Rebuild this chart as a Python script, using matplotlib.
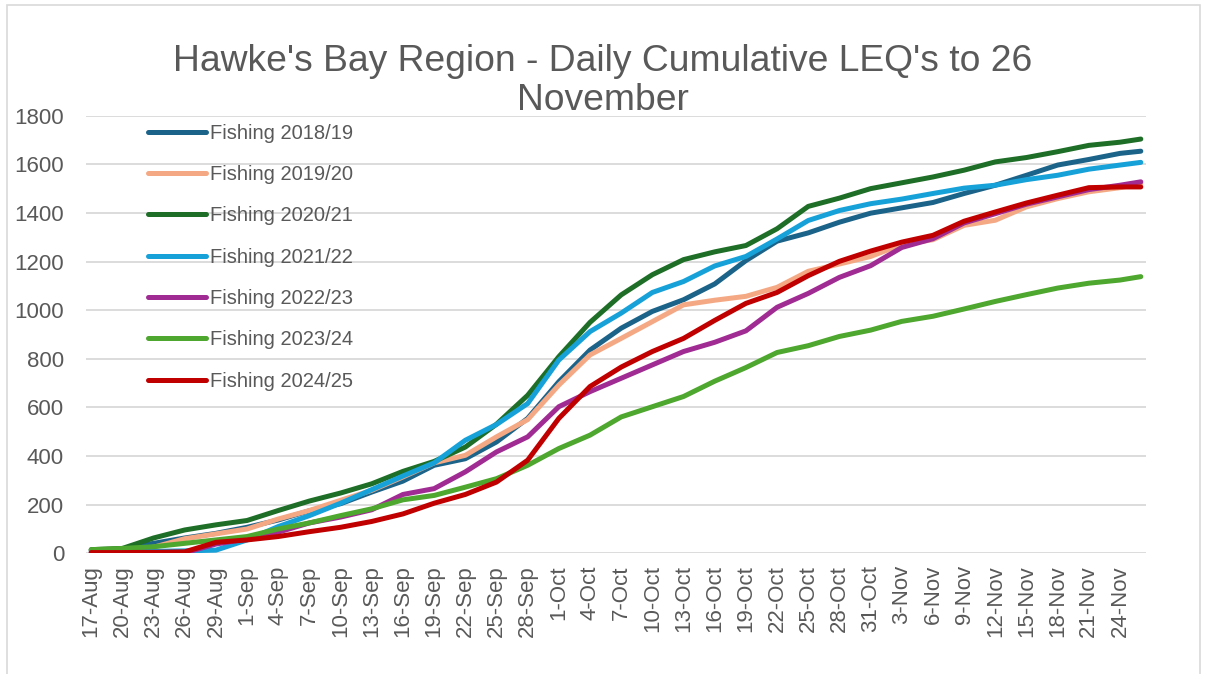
import matplotlib
matplotlib.use("Agg")
import matplotlib.pyplot as plt
from matplotlib.patches import Rectangle
import pandas as pd

# ---------------- data ----------------
start_date = "2024-08-17"
end_date = "2024-11-26"

# day index (0 = 17-Aug) at which values were read
sample_days = [0, 3, 6, 9, 12, 15, 18, 21, 24, 27, 30, 33, 36, 39, 42, 45, 48, 51,
               54, 57, 60, 63, 66, 69, 72, 75, 78, 81, 84, 87, 90, 93, 96, 99, 101]

fishing_2018_19 = [12, 18, 41, 63, 82, 107, 137, 175, 204, 252, 297, 362, 389, 458, 555,
                   706, 836, 926, 995, 1043, 1108, 1204, 1284, 1318, 1362, 1399, 1421,
                   1443, 1480, 1514, 1555, 1597, 1620, 1645, 1654]
fishing_2019_20 = [10, 10, 25, 60, 80, 100, 141, 176, 218, 259, 314, 372, 403, 479, 550,
                   692, 816, 884, 953, 1022, 1041, 1057, 1094, 1160, 1190, 1221, 1270,
                   1290, 1349, 1370, 1425, 1459, 1487, 1504, 1521]
fishing_2020_21 = [15, 20, 63, 96, 117, 135, 176, 215, 248, 286, 337, 378, 437, 531, 650,
                   809, 950, 1063, 1146, 1208, 1240, 1266, 1335, 1427, 1461, 1500, 1524,
                   1548, 1576, 1610, 1628, 1652, 1678, 1691, 1704]
fishing_2021_22 = [5, 5, 8, 10, 13, 55, 110, 155, 206, 262, 318, 372, 465, 530, 616,
                   795, 912, 988, 1073, 1118, 1182, 1221, 1293, 1369, 1410, 1438, 1457,
                   1480, 1502, 1514, 1537, 1555, 1580, 1597, 1608]
fishing_2022_23 = [0, 0, 0, 2, 38, 59, 87, 125, 149, 179, 242, 266, 335, 417, 479,
                   603, 665, 720, 775, 830, 868, 915, 1012, 1069, 1135, 1183, 1258,
                   1294, 1359, 1397, 1436, 1466, 1496, 1514, 1528]
fishing_2023_24 = [15, 20, 27, 41, 55, 69, 100, 125, 155, 183, 220, 238, 272, 307, 362,
                   431, 486, 561, 603, 645, 708, 764, 826, 854, 892, 918, 954,
                   975, 1005, 1036, 1064, 1091, 1111, 1124, 1138]
fishing_2024_25 = [3, 3, 4, 6, 45, 55, 69, 89, 107, 131, 162, 206, 242, 293, 383,
                   555, 686, 766, 830, 884, 958, 1028, 1073, 1142, 1201, 1243, 1280,
                   1308, 1366, 1404, 1441, 1473, 1504, 1507, 1507]

series_names = ["Fishing 2018/19", "Fishing 2019/20", "Fishing 2020/21",
                "Fishing 2021/22", "Fishing 2022/23", "Fishing 2023/24",
                "Fishing 2024/25"]
series_values = [fishing_2018_19, fishing_2019_20, fishing_2020_21, fishing_2021_22,
                 fishing_2022_23, fishing_2023_24, fishing_2024_25]
series_colors = ["#1b6389", "#f4a984", "#1e6e27", "#17a1d9", "#a02b93",
                 "#4ea72e", "#c00000"]

y_ticks = [0, 200, 400, 600, 800, 1000, 1200, 1400, 1600, 1800]

# ---------------- plot ----------------
dates = pd.date_range(start_date, end_date, freq="D")
date_labels = [f"{d.day}-{d.strftime('%b')}" for d in dates]
n_days = len(dates)

plt.rcParams["font.family"] = ["Liberation Sans", "DejaVu Sans"]
txt_color = "#595959"
grid_color = "#d9d9d9"

W, H = 1206, 674
fig = plt.figure(figsize=(W / 100, H / 100), dpi=100)
fig.patch.set_facecolor("white")

# outer chart border
fig.patches.append(Rectangle((7 / W, -0.05), (1200 - 7) / W, 1.05 - 5 / H,
                             transform=fig.transFigure, fill=False,
                             edgecolor=grid_color, linewidth=1.2))

ax = fig.add_axes([86 / W, 1 - 553.3 / H, (1146 - 86) / W, (553.3 - 115.7) / H])

for name, vals, col in zip(series_names, series_values, series_colors):
    ax.plot(sample_days, vals, color=col, lw=3.6, label=name,
            solid_capstyle="round", solid_joinstyle="round")

ax.set_xlim(-0.5, n_days - 0.5)
ax.set_ylim(0, 1800)
ax.set_yticks(y_ticks)
ax.set_yticklabels([str(v) for v in y_ticks])
tick_pos = list(range(0, n_days, 3))
ax.set_xticks(tick_pos)
ax.set_xticklabels([date_labels[i] for i in tick_pos], rotation=90)

ax.grid(axis="y", color=grid_color, lw=1.3)
ax.set_axisbelow(True)
for s in ax.spines.values():
    s.set_visible(False)
ax.tick_params(axis="both", length=0, labelsize=16, colors=txt_color)
ax.tick_params(axis="y", pad=15.8)
ax.tick_params(axis="x", pad=8.6)

leg = ax.legend(loc="upper left", bbox_to_anchor=(0.0585, 0.982), frameon=False,
                fontsize=14.5, handlelength=2.9, handletextpad=0.2,
                labelspacing=1.11, borderpad=0, borderaxespad=0)
for t in leg.get_texts():
    t.set_color(txt_color)

fig.text(0.5, 1 - 81 / H, "Hawke's Bay Region - Daily Cumulative LEQ's to 26\nNovember",
         ha="center", va="center", fontsize=26.8, color=txt_color, linespacing=1.14)

fig.savefig("out.png", dpi=100)
